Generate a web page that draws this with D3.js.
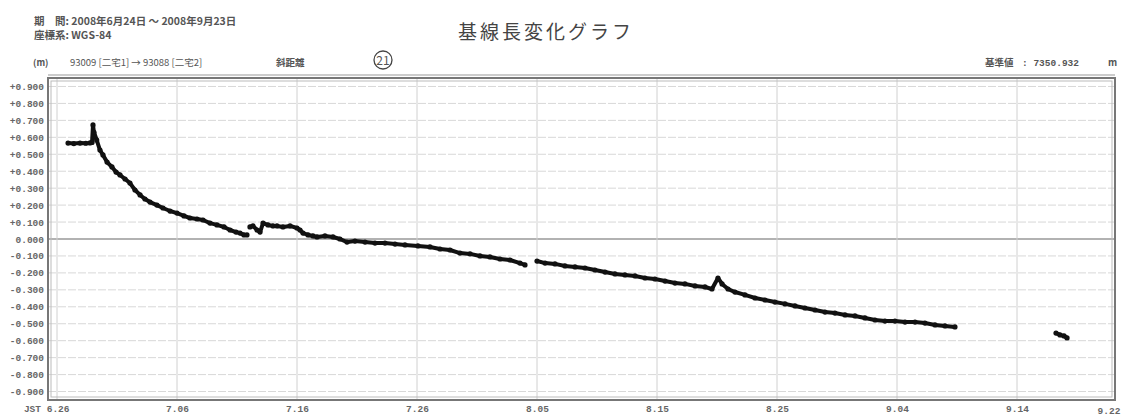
<!DOCTYPE html>
<html><head><meta charset="utf-8">
<script src="https://cdn.jsdelivr.net/npm/d3@7"></script>
<style>body{margin:0;background:#fff}</style>
</head><body><svg id="c" width="1122" height="417"></svg>
<script>
// ---- texts ----
const periodText = "期　間: 2008年6月24日 ～ 2008年9月23日";
const coordText = "座標系: WGS-84";
const titleText = "基線長変化グラフ";
const unitText = "(m)";
const baselineText = "93009 [二宅1] → 93088 [二宅2]";
const kindText = "斜距離";
const markText = "21";
const refLabel = "基準値";
const refValue = ": 7350.932";
const refUnit = "m";

// ---- data: days since 2008-06-26 00:00 JST, value (m) ----
const dayOffsets = [0.92,1.4,1.92,2.4,2.75,2.92,3.0,3.08,3.31,3.58,3.83,4.17,4.58,4.92,5.25,5.67,6.08,6.5,6.92,7.33,7.75,8.33,8.83,9.42,10.0,10.58,11.08,11.67,12.17,12.75,13.33,13.92,14.42,14.92,15.25,15.58,15.83,
15.95,
16.08,16.33,16.67,16.92,17.17,17.58,18.0,18.33,18.83,19.42,20.0,20.25,20.5,20.92,21.33,21.67,22.33,23.0,23.58,24.17,24.83,25.67,26.5,27.33,28.17,29.0,30.08,31.08,31.92,32.75,33.58,34.42,35.25,36.08,36.92,37.75,38.58,39.0,
39.5,
40.0,40.67,41.5,42.33,43.17,44.0,44.83,45.67,46.5,47.33,48.17,49.0,49.83,50.67,51.5,52.33,53.17,54.0,54.58,55.08,55.42,55.92,56.5,57.33,58.17,59.0,59.83,60.67,61.5,62.33,63.17,64.0,64.83,65.67,66.5,67.33,68.17,69.0,69.83,70.67,71.5,72.33,73.17,74.0,74.83,
79.0,
83.25,83.58,83.92,84.17];
const values = [0.566,0.563,0.566,0.565,0.567,0.57,0.673,0.63,0.584,0.525,0.496,0.454,0.425,0.395,0.378,0.354,0.330,0.289,0.26,0.236,0.218,0.2,0.183,0.165,0.153,0.136,0.124,0.118,0.112,0.094,0.083,0.071,0.053,0.041,0.035,0.024,0.024,
null,
0.071,0.077,0.053,0.041,0.094,0.083,0.077,0.077,0.071,0.077,0.065,0.053,0.035,0.024,0.018,0.012,0.018,0.012,0,-0.018,-0.012,-0.018,-0.024,-0.024,-0.03,-0.035,-0.041,-0.047,-0.059,-0.065,-0.083,-0.088,-0.1,-0.106,-0.118,-0.124,-0.142,-0.153,
null,
-0.13,-0.142,-0.147,-0.159,-0.165,-0.171,-0.183,-0.195,-0.206,-0.212,-0.218,-0.23,-0.236,-0.248,-0.26,-0.265,-0.277,-0.283,-0.295,-0.23,-0.265,-0.295,-0.313,-0.33,-0.348,-0.36,-0.372,-0.383,-0.395,-0.407,-0.419,-0.431,-0.437,-0.448,-0.454,-0.466,-0.478,-0.484,-0.484,-0.49,-0.49,-0.496,-0.507,-0.513,-0.519,
null,
-0.555,-0.566,-0.572,-0.584];

// ---- axes ----
const yTicks = [0.9,0.8,0.7,0.6,0.5,0.4,0.3,0.2,0.1,0,-0.1,-0.2,-0.3,-0.4,-0.5,-0.6,-0.7,-0.8,-0.9];
const yDomain = [-0.95, 0.95];
const xDomain = ["2008-06-25T06:00", "2008-09-22T04:00"];
const xTickDates = ["2008-06-26","2008-07-06","2008-07-16","2008-07-26","2008-08-05","2008-08-15","2008-08-25","2008-09-04","2008-09-14"];
const xTickLabels = ["JST 6.26","7.06","7.16","7.26","8.05","8.15","8.25","9.04","9.14"];
const xEndLabel = "9.22";

const svg = d3.select("#c");
const L = 48, R = 1115, T = 78, B = 400;
const parse = d3.isoParse;
const t0 = parse("2008-06-26T00:00");
const x = d3.scaleTime().domain(xDomain.map(parse)).range([L, R]);
const y = d3.scaleLinear().domain(yDomain).range([B, T]);
const txtCol = "#666";
const numFont = "'Liberation Mono', 'DejaVu Sans Mono', monospace";

// header
const hdr = svg.append("g").attr("fill", "#555").style("font-family", "'Noto Sans CJK JP', sans-serif").attr("font-weight", "bold");
hdr.append("text").attr("x", 34).attr("y", 25).attr("font-size", 10.5).text(periodText);
hdr.append("text").attr("x", 34).attr("y", 39).attr("font-size", 10.5).text(coordText);
hdr.append("text").attr("x", 458).attr("y", 39).attr("font-size", 19).attr("letter-spacing", 3).attr("fill", "#444").attr("font-weight", "normal").text(titleText);
hdr.append("text").attr("x", 33).attr("y", 66).attr("font-size", 9).text(unitText);
hdr.append("text").attr("x", 70).attr("y", 66).attr("font-size", 9.5).attr("font-weight", "normal").text(baselineText);
hdr.append("text").attr("x", 276).attr("y", 66).attr("font-size", 9.5).text(kindText);
hdr.append("circle").attr("cx", 383).attr("cy", 60).attr("r", 9).attr("fill", "none").attr("stroke", "#444").attr("stroke-width", 1.3);
hdr.append("text").attr("x", 383).attr("y", 64.5).attr("font-size", 12).attr("font-weight", "normal").attr("text-anchor", "middle").text(markText);
hdr.append("text").attr("x", 985).attr("y", 66).attr("font-size", 9.5).text(refLabel);
hdr.append("text").attr("x", 1022).attr("y", 66).attr("font-size", 9.5).style("font-family", numFont).text(refValue);
hdr.append("text").attr("x", 1108).attr("y", 66).attr("font-size", 9.5).text(refUnit);

// grid
const grid = svg.append("g");
grid.selectAll("line.h").data(yTicks).join("line")
  .attr("x1", L).attr("x2", R).attr("y1", d => y(d)).attr("y2", d => y(d))
  .attr("stroke", d => d === 0 ? "#999" : "#d8d8d8")
  .attr("stroke-width", d => d === 0 ? 1.3 : 1)
  .attr("stroke-dasharray", d => d === 0 ? null : "8,2");
grid.selectAll("line.v").data(xTickDates).join("line")
  .attr("x1", d => x(parse(d))).attr("x2", d => x(parse(d)))
  .attr("y1", T).attr("y2", B)
  .attr("stroke", "#d0d0d0").attr("stroke-width", 1);

// y labels
const yAxis = d3.axisLeft(y).tickValues(yTicks).tickSize(0).tickPadding(4)
  .tickFormat(d => d === 0 ? "0.000" : (d > 0 ? "+" : "-") + Math.abs(d).toFixed(3));
svg.append("g").attr("transform", `translate(${L},0)`).call(yAxis)
  .call(g => g.select(".domain").remove())
  .call(g => g.selectAll("text").attr("fill", txtCol).attr("font-size", 9.5).attr("font-weight", "bold").style("font-family", numFont));

// x labels
const xAxis = d3.axisBottom(x).tickValues(xTickDates.map(parse)).tickSize(0).tickPadding(5)
  .tickFormat((d, i) => xTickLabels[i]);
svg.append("g").attr("transform", `translate(0,${B})`).call(xAxis)
  .call(g => g.select(".domain").remove())
  .call(g => g.selectAll("text").attr("fill", txtCol).attr("font-size", 9.5).attr("font-weight", "bold").style("font-family", numFont))
  .call(g => g.selectAll(".tick").filter((d, i) => i === 0).select("text").attr("text-anchor", "end").attr("dx", "12"));
svg.append("text").attr("x", R - 6).attr("y", B + 14).attr("text-anchor", "middle")
  .attr("fill", txtCol).attr("font-size", 9.5).attr("font-weight", "bold").style("font-family", numFont).text(xEndLabel);

// frame
svg.append("rect").attr("x", L).attr("y", T).attr("width", R - L).attr("height", B - T)
  .attr("fill", "none").attr("stroke", "#777").attr("stroke-width", 2);
svg.append("rect").attr("x", L + 3).attr("y", T + 3).attr("width", R - L - 6).attr("height", B - T - 6)
  .attr("fill", "none").attr("stroke", "#bbb").attr("stroke-width", 1);
svg.append("line").attr("x1", L).attr("x2", R).attr("y1", T - 3).attr("y2", T - 3).attr("stroke", "#999").attr("stroke-width", 1);

// data
const pts = dayOffsets.map((d, i) => ({t: new Date(+t0 + d * 864e5), v: values[i]}));
const line = d3.line().defined(d => d.v !== null).x(d => x(d.t)).y(d => y(d.v));
svg.append("path").datum(pts).attr("d", line).attr("fill", "none").attr("stroke", "#111")
  .attr("stroke-width", 4).attr("stroke-linejoin", "round").attr("stroke-linecap", "round");
svg.selectAll("circle.p").data(pts.filter(d => d.v !== null)).join("circle")
  .attr("cx", d => x(d.t)).attr("cy", d => y(d.v)).attr("r", 2.6).attr("fill", "#111");
</script></body></html>
